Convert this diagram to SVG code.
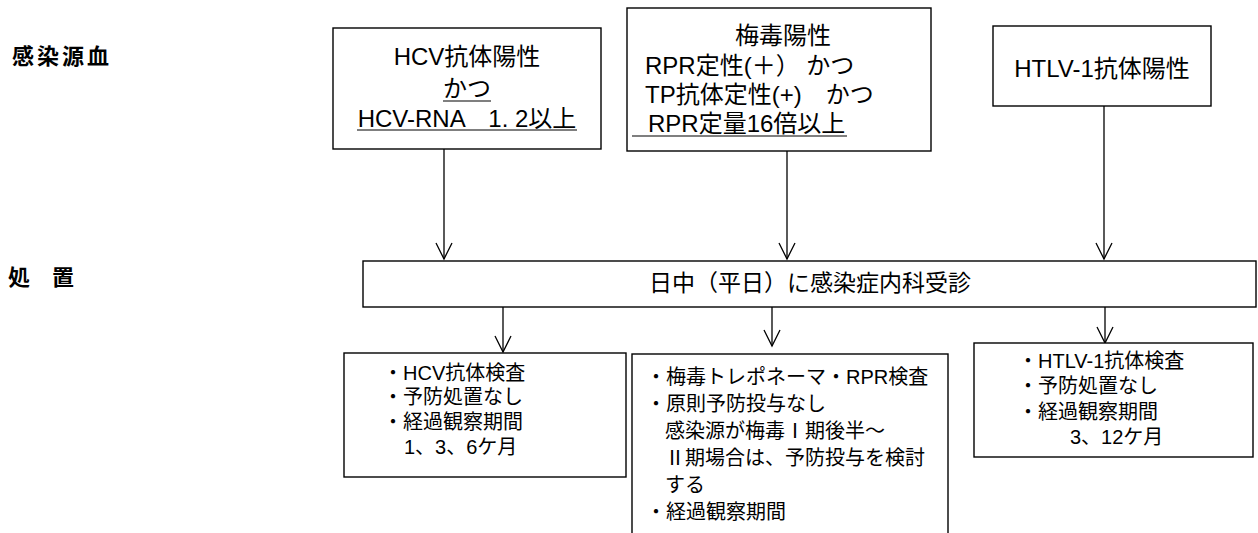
<svg xmlns="http://www.w3.org/2000/svg" width="1258" height="533" viewBox="0 0 1258 533">
<style>
.box{fill:#fff;stroke:#000;stroke-width:1.4}
.t{font-family:"Liberation Sans","Noto Sans CJK JP",sans-serif;fill:#000}
.big{font-size:24px}
.mid{font-size:23px}
.sm{font-size:20px}
.lbl{font-family:"Noto Sans CJK JP",sans-serif;font-weight:bold;font-size:22px}
.con{stroke:#000;stroke-width:1.3;fill:none}
.ul{stroke:#000;stroke-width:1.2}
</style>
<defs>
<marker id="v" markerUnits="userSpaceOnUse" viewBox="-18 -10 20 20" markerWidth="20" markerHeight="20" refX="0" refY="0" orient="auto">
<path d="M-16,-8 L0,0 L-16,8" fill="none" stroke="#000" stroke-width="1.3"/>
</marker>
</defs>
<rect width="1258" height="533" fill="#fff"/>
<g id="label-source"><text class="lbl" x="12" y="64" letter-spacing="3">感染源血</text></g>
<g id="label-action"><text class="lbl" x="8" y="285">処　置</text></g>

<g id="connectors">
<line class="con" x1="444" y1="149" x2="444" y2="259" marker-end="url(#v)"/>
<line class="con" x1="787" y1="151" x2="787" y2="259" marker-end="url(#v)"/>
<line class="con" x1="1104" y1="106" x2="1104" y2="259" marker-end="url(#v)"/>
<line class="con" x1="503" y1="307" x2="503" y2="352" marker-end="url(#v)"/>
<line class="con" x1="772" y1="307" x2="772" y2="346" marker-end="url(#v)"/>
<line class="con" x1="1105" y1="307" x2="1105" y2="343" marker-end="url(#v)"/>
</g>

<g id="hcv-source">
<rect class="box" x="333" y="28" width="268" height="121"/>
<text class="t big" x="467" y="65" text-anchor="middle">HCV抗体陽性</text>
<text class="t big" x="467" y="97" text-anchor="middle">かつ</text>
<line class="ul" x1="443" y1="101" x2="491" y2="101"/>
<text class="t big" x="467" y="127" text-anchor="middle">HCV-RNA　1. 2以上</text>
<line class="ul" x1="357" y1="130" x2="577" y2="130"/>
</g>

<g id="syphilis-source">
<rect class="box" x="627" y="8" width="304" height="143"/>
<text class="t big" x="783" y="44" text-anchor="middle">梅毒陽性</text>
<text class="t big" x="645" y="74">RPR定性(＋） かつ</text>
<text class="t big" x="645" y="103">TP抗体定性(+)　かつ</text>
<text class="t big" x="648" y="132">RPR定量16倍以上</text>
<line class="ul" x1="632" y1="136" x2="847" y2="136"/>
</g>

<g id="htlv-source">
<rect class="box" x="993" y="26" width="218" height="80"/>
<text class="t big" x="1102" y="77" text-anchor="middle">HTLV-1抗体陽性</text>
</g>

<g id="visit">
<rect class="box" x="363" y="261" width="893" height="46"/>
<text class="t mid" x="810" y="291" text-anchor="middle">日中（平日）に感染症内科受診</text>
</g>

<g id="hcv-action">
<rect class="box" x="344" y="353" width="282" height="124"/>
<text class="t sm" x="383" y="380">・HCV抗体検査</text>
<text class="t sm" x="383" y="404">・予防処置なし</text>
<text class="t sm" x="383" y="429">・経過観察期間</text>
<text class="t sm" x="404" y="454">1、3、6ケ月</text>
</g>

<g id="syphilis-action">
<rect class="box" x="632" y="354" width="316" height="200"/>
<text class="t sm" x="646" y="384">・梅毒トレポネーマ・RPR検査</text>
<text class="t sm" x="646" y="411">・原則予防投与なし</text>
<text class="t sm" x="665" y="438">感染源が梅毒Ⅰ期後半～</text>
<text class="t sm" x="665" y="465">Ⅱ期場合は、予防投与を検討</text>
<text class="t sm" x="665" y="492">する</text>
<text class="t sm" x="646" y="519">・経過観察期間</text>
</g>

<g id="htlv-action">
<rect class="box" x="974" y="343" width="279" height="114"/>
<text class="t sm" x="1018" y="368">・HTLV-1抗体検査</text>
<text class="t sm" x="1018" y="393">・予防処置なし</text>
<text class="t sm" x="1018" y="419">・経過観察期間</text>
<text class="t sm" x="1070" y="444">3、12ケ月</text>
</g>
</svg>
